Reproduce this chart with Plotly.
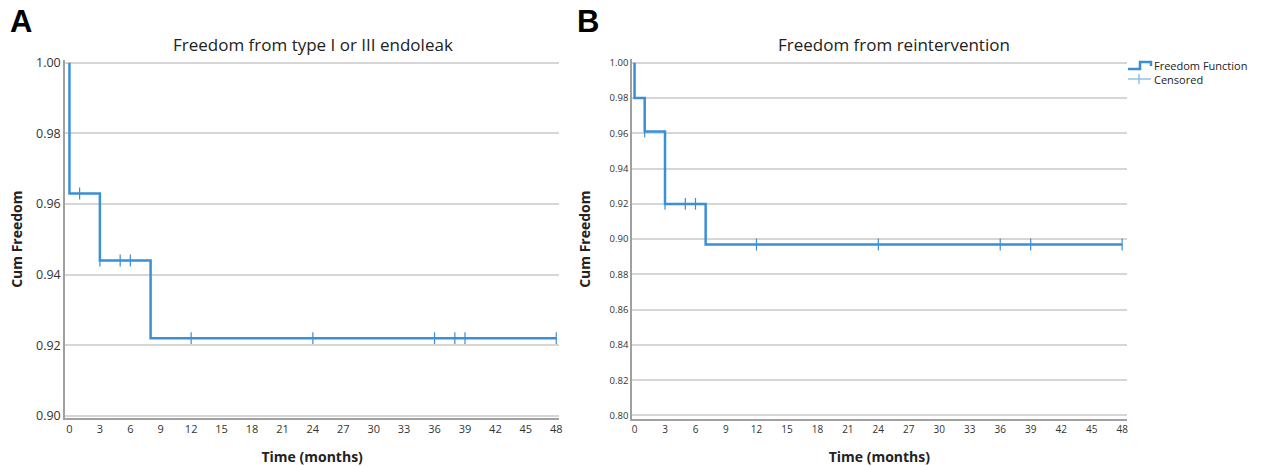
import plotly.graph_objects as go

# ---- data ----
months_ticks = list(range(0, 49, 3))

a_event_times = [0, 3, 8]
a_survival = [0.963, 0.944, 0.922]
a_censored_times = [1, 3, 5, 6, 12, 24, 36, 38, 39, 48]

b_event_times = [0, 1, 3, 7]
b_survival = [0.980, 0.961, 0.920, 0.897]
b_censored_times = [1, 3, 5, 6, 12, 24, 36, 39, 48]

a_yticks = [0.90, 0.92, 0.94, 0.96, 0.98, 1.00]
b_yticks = [0.80, 0.82, 0.84, 0.86, 0.88, 0.90, 0.92, 0.94, 0.96, 0.98, 1.00]

legend_labels = ["Freedom Function", "Censored"]

END_TIME = 48
BLUE = "#3a8fd6"
LIGHT_BLUE = "#7db8ea"
FONT = "Open Sans"
W, H = 1261, 466


def step_value(t, times, surv):
    v = 1.0
    for ti, si in zip(times, surv):
        if ti <= t:
            v = si
    return v


def curve(times, surv):
    xs = [0] + list(times) + [END_TIME]
    ys = [1.0] + list(surv) + [surv[-1]]
    return xs, ys


def px(x):
    return x / W


def py(y):
    return 1 - y / H


fig = go.Figure()

for (times, surv, cens, xa, ya) in [
    (a_event_times, a_survival, a_censored_times, "x", "y"),
    (b_event_times, b_survival, b_censored_times, "x2", "y2"),
]:
    cx, cy = curve(times, surv)
    fig.add_trace(go.Scatter(x=cx, y=cy, mode="lines",
                             line=dict(color=BLUE, width=2.5, shape="hv"),
                             name=legend_labels[0], showlegend=False, xaxis=xa, yaxis=ya))
    fig.add_trace(go.Scatter(x=cens, y=[step_value(t, times, surv) for t in cens],
                             mode="markers",
                             marker=dict(symbol="line-ns-open", size=8.5, color=BLUE,
                                         line=dict(color=BLUE, width=1.2)),
                             name=legend_labels[1], showlegend=False, xaxis=xa, yaxis=ya))

axis_common = dict(showline=True, linecolor="#a0a0a0", linewidth=1.5, ticks="",
                   zeroline=False, automargin=False)
title_font = dict(family=FONT, size=14, color="#222")

fig.update_layout(
    width=W, height=H,
    margin=dict(l=0, r=0, t=0, b=0),
    paper_bgcolor="white", plot_bgcolor="white",
    font=dict(family=FONT, color="#222222"),
    showlegend=False,
    xaxis=dict(domain=[px(65), px(559.3)], range=[-0.44, 48.3], tickvals=months_ticks,
               showgrid=False, anchor="y",
               tickfont=dict(family=FONT, size=11, color="#333333"),
               title=dict(text="<b>Time (months)</b>", font=title_font, standoff=17),
               **axis_common),
    yaxis=dict(domain=[py(418.3), py(60)], range=[0.8993, 1.0008], tickvals=a_yticks,
               tickformat=".2f", showgrid=True, gridcolor="#d6d6d6", gridwidth=1.5,
               anchor="x",
               tickfont=dict(family=FONT, size=12.5, color="#333333"),
               title=dict(text="<b>Cum Freedom</b>", font=title_font, standoff=10),
               **axis_common),
    xaxis2=dict(domain=[px(632), px(1126.7)], range=[-0.25, 48.45], tickvals=months_ticks,
                showgrid=False, anchor="y2",
                tickfont=dict(family=FONT, size=10, color="#333333"),
                title=dict(text="<b>Time (months)</b>", font=title_font, standoff=17),
                **axis_common),
    yaxis2=dict(domain=[py(419), py(59.3)], range=[0.798, 1.002], tickvals=b_yticks,
                tickformat=".2f", showgrid=True, gridcolor="#d6d6d6", gridwidth=1.5,
                anchor="x2",
                tickfont=dict(family=FONT, size=9.5, color="#333333"),
                title=dict(text="<b>Cum Freedom</b>", font=title_font, standoff=16),
                **axis_common),
    annotations=[
        dict(text="<b>A</b>", x=px(8), y=py(22), xref="paper", yref="paper",
             xanchor="left", yanchor="middle", showarrow=False,
             font=dict(family="Liberation Sans", size=31, color="#000")),
        dict(text="<b>B</b>", x=px(575), y=py(22), xref="paper", yref="paper",
             xanchor="left", yanchor="middle", showarrow=False,
             font=dict(family="Liberation Sans", size=31, color="#000")),
        dict(text="Freedom from type I or III endoleak", x=px(313), y=py(45),
             xref="paper", yref="paper", xanchor="center", yanchor="middle", showarrow=False,
             font=dict(family=FONT, size=17, color="#222")),
        dict(text="Freedom from reintervention", x=px(894), y=py(45),
             xref="paper", yref="paper", xanchor="center", yanchor="middle", showarrow=False,
             font=dict(family=FONT, size=17, color="#222")),
        # legend texts
        dict(text=legend_labels[0], x=px(1152), y=py(66), xref="paper", yref="paper",
             xanchor="left", yanchor="middle", showarrow=False,
             font=dict(family=FONT, size=11, color="#222")),
        dict(text=legend_labels[1], x=px(1152), y=py(79.5), xref="paper", yref="paper",
             xanchor="left", yanchor="middle", showarrow=False,
             font=dict(family=FONT, size=11, color="#222")),
    ],
    shapes=[
        # legend glyph: step line
        dict(type="path", xref="paper", yref="paper",
             path=(f"M {px(1128)} {py(69)} L {px(1140)} {py(69)} L {px(1140)} {py(62)} "
                   f"L {px(1151)} {py(62)} L {px(1151)} {py(66)}"),
             line=dict(color=BLUE, width=2.5)),
        # legend glyph: censored cross
        dict(type="line", xref="paper", yref="paper", x0=px(1128), x1=px(1151),
             y0=py(79), y1=py(79), line=dict(color=LIGHT_BLUE, width=1.3)),
        dict(type="line", xref="paper", yref="paper", x0=px(1139), x1=px(1139),
             y0=py(74), y1=py(84), line=dict(color=LIGHT_BLUE, width=1.3)),
    ],
)

fig.write_html("out.html",
               config={"displayModeBar": False},
               post_script="document.body.style.margin='0';document.body.style.overflow='hidden';")
